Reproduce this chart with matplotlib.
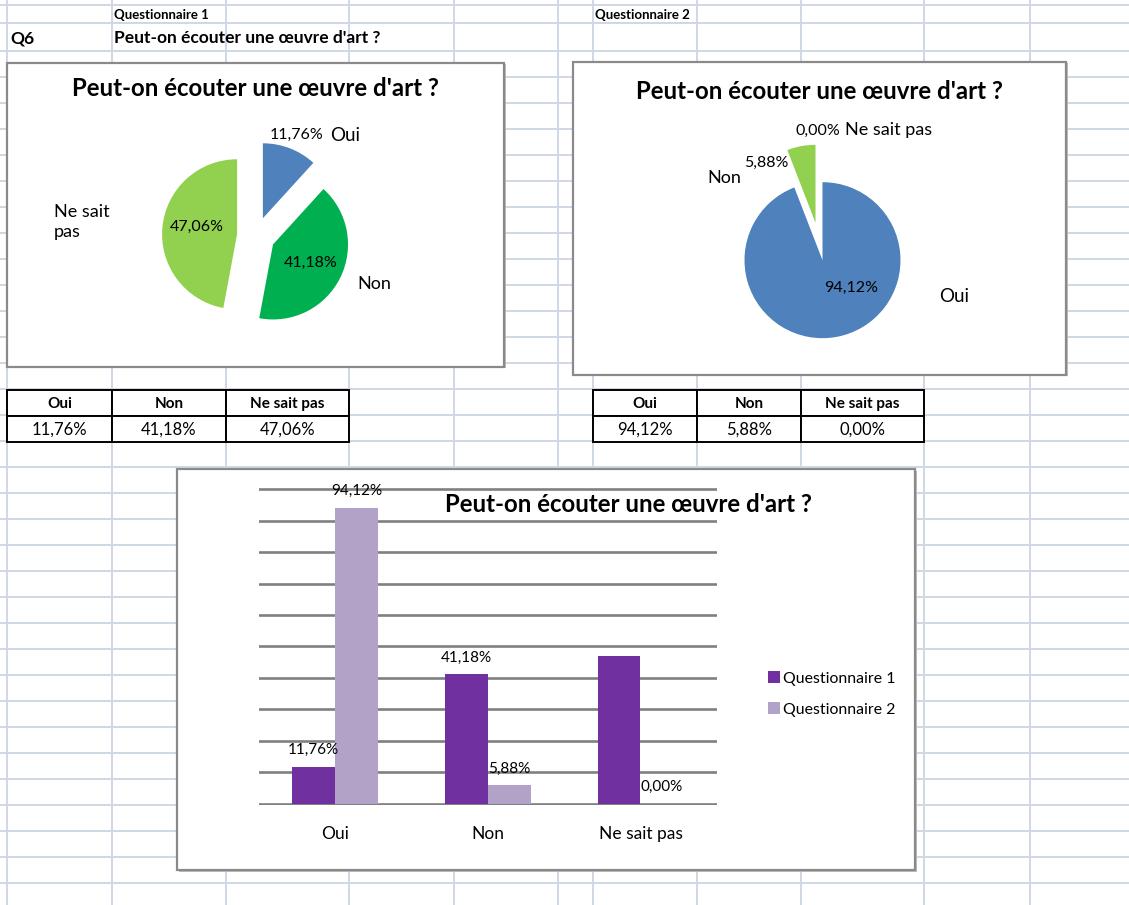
import matplotlib
matplotlib.use("Agg")
import matplotlib.pyplot as plt
import matplotlib.patches as mpatches
import numpy as np

plt.rcParams['font.family'] = ['Lato', 'DejaVu Sans']

W, H = 1129, 905

# data
question_code = "Q6"
question = "Peut-on écouter une œuvre d'art ?"
categories = ["Oui", "Non", "Ne sait pas"]
series_names = ["Questionnaire 1", "Questionnaire 2"]
q1_values = [11.76, 41.18, 47.06]
q2_values = [94.12, 5.88, 0.00]
q1_bar_labels = [True, True, False]   # excel left the last label off
q2_bar_labels = [True, True, True]

blue, dark_green, light_green = '#4F81BD', '#00B050', '#92D050'
purple, lilac = '#7030A0', '#B3A2C7'
grid_col = '#D0D7E5'


def pct(v):
    return f"{v:.2f}%".replace(".", ",")


fig = plt.figure(figsize=(W / 100, H / 100), dpi=100)

# ---- the sheet itself (pixel coords, y down)
bg = fig.add_axes([0, 0, 1, 1], zorder=0)
bg.set_xlim(0, W)
bg.set_ylim(H, 0)
bg.axis('off')

col_lines = [7, 112, 226, 349, 454, 558, 593, 697, 801, 924, 1030]
row_lines = [5, 23.5, 51] + list(np.arange(77, H + 1, 26))
for x in col_lines:
    bg.plot([x, x], [0, H], color=grid_col, lw=1.4, zorder=0)
for y in row_lines:
    bg.plot([0, W], [y, y], color=grid_col, lw=1.4, zorder=0)

bg.text(114, 15, series_names[0], fontsize=9.5, weight='bold', va='center')
bg.text(595, 15, series_names[1], fontsize=9.5, weight='bold', va='center')
bg.text(10, 38, question_code, fontsize=12.5, weight='bold', va='center')
bg.text(114, 38, question, fontsize=12.5, weight='bold', va='center')


def chart_box(x0, y0, x1, y1):
    bg.add_patch(mpatches.Rectangle((x0 + 1.5, y0 + 1.5), x1 - x0, y1 - y0,
                                    fc='#BDBDBD', ec='none', zorder=2))
    bg.add_patch(mpatches.Rectangle((x0, y0), x1 - x0, y1 - y0,
                                    fc='white', ec='#8A8A8A', lw=1.6, zorder=3))


chart_box(7, 63, 504, 367)
chart_box(573, 62, 1066, 375)
chart_box(177, 469, 915, 870)


def sheet_table(xs, values):
    top, mid, bot = 389.5, 415.7, 441.7
    for i in range(len(categories)):
        for (y0, y1) in [(top, mid), (mid, bot)]:
            bg.add_patch(mpatches.Rectangle((xs[i], y0), xs[i + 1] - xs[i], y1 - y0,
                                            fc='white', ec='black', lw=1.4, zorder=3))
        xc = (xs[i] + xs[i + 1]) / 2
        bg.text(xc, (top + mid) / 2 + 1, categories[i], ha='center', va='center',
                fontsize=11, weight='bold', zorder=4)
        bg.text(xc, (mid + bot) / 2 + 1, pct(values[i]), ha='center', va='center',
                fontsize=12, zorder=4)


sheet_table([7, 112, 226, 349], q1_values)
sheet_table([593, 697, 801, 924], q2_values)

# ---- pies (pixel coords, y up)
pa = fig.add_axes([0, 0, 1, 1], zorder=1)
pa.patch.set_alpha(0)


def ptext(x, y, s, **kw):
    pa.text(x, H - y, s, ha='center', va='center', **kw)


pa.pie(q1_values, colors=[blue, dark_green, light_green], startangle=90,
       counterclock=False, explode=[19, 19, 19], radius=75,
       center=(256, H - 236), frame=True, wedgeprops=dict(lw=0))
pa.pie(q2_values, colors=[blue, light_green, dark_green], startangle=90,
       counterclock=False, explode=[19, 19, 19], radius=78,
       center=(819, H - 241.5), frame=True, wedgeprops=dict(lw=0))
pa.set_xlim(0, W)
pa.set_ylim(0, H)
pa.set_aspect('auto')
pa.axis('off')

ptext(255, 89, question, fontsize=17.3, weight='bold')
ptext(819, 92, question, fontsize=17.3, weight='bold')

# pie 1 labels
ptext(297, 135, pct(q1_values[0]), fontsize=11.5)
ptext(345, 136, categories[0], fontsize=13.5)
ptext(311, 263, pct(q1_values[1]), fontsize=11.5)
ptext(374, 284, categories[1], fontsize=13)
ptext(197, 227, pct(q1_values[2]), fontsize=11.5)
pa.text(54, H - 222, categories[2].replace(" pas", "\npas"), fontsize=13,
        ha='left', va='center', linespacing=1.3)

# pie 2 labels
ptext(851, 288, pct(q2_values[0]), fontsize=11.5)
ptext(954, 297, categories[0], fontsize=13.5)
ptext(766, 163, pct(q2_values[1]), fontsize=11.5)
ptext(724, 178, categories[1], fontsize=13)
ptext(818, 131, pct(q2_values[2]), fontsize=11.5)
ptext(889, 130, categories[2], fontsize=13)

# ---- bar chart
px0, px1, py0, py1 = 258.7, 716.8, 488, 805
ax = fig.add_axes([px0 / W, 1 - py1 / H, (px1 - px0) / W, (py1 - py0) / H], zorder=2)
ax.patch.set_alpha(0)
x = np.arange(len(categories))
bw = 0.28
b1 = ax.bar(x - bw / 2, q1_values, bw, color=purple, label=series_names[0])
b2 = ax.bar(x + bw / 2, q2_values, bw, color=lilac, label=series_names[1])
for bars, vals, show in [(b1, q1_values, q1_bar_labels), (b2, q2_values, q2_bar_labels)]:
    for r, v, s in zip(bars, vals, show):
        if s:
            ax.annotate(pct(v), (r.get_x() + r.get_width() / 2, v), xytext=(0, 12),
                        textcoords='offset points', ha='center', va='center',
                        fontsize=11)
ax.set_xlim(-0.5, 2.5)
ax.set_ylim(-0.4, 100.4)
ax.set_yticks(np.arange(0, 101, 10))
ax.set_yticklabels([])
ax.grid(axis='y', color='#808080', lw=1.9)
ax.set_axisbelow(True)
for sp in ax.spines.values():
    sp.set_visible(False)
ax.set_xticks(x)
ax.set_xticklabels(categories, fontsize=12.5)
ax.tick_params(length=0)
ax.tick_params(axis='x', pad=15)

fig.text(628 / W, 1 - 505 / H, question, ha='center', va='center',
         fontsize=17.3, weight='bold')
ax.legend(loc='center left', bbox_to_anchor=(768 / W, 1 - 694 / H),
          bbox_transform=fig.transFigure, frameon=False, fontsize=11.4,
          handlelength=0.75, handleheight=0.75, handletextpad=0.2,
          labelspacing=1.05, borderaxespad=0, borderpad=0)

fig.savefig("out.png", dpi=100)
